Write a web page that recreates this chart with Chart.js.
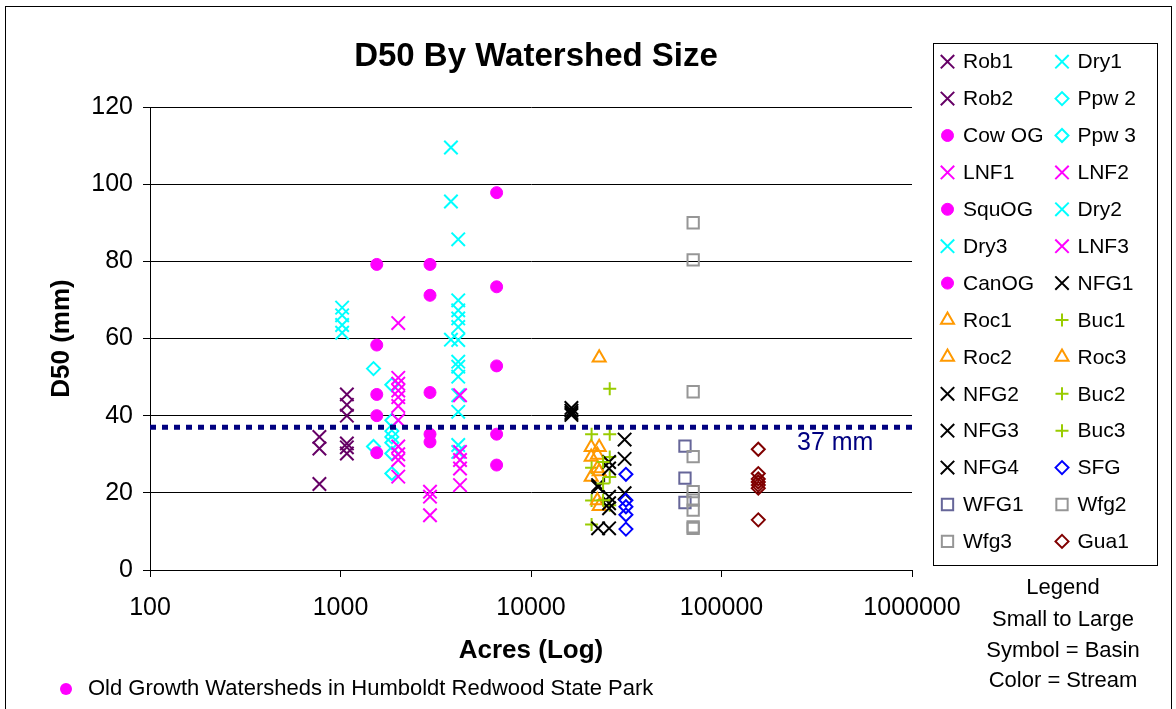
<!DOCTYPE html>
<html>
<head>
<meta charset="utf-8">
<title>D50 By Watershed Size</title>
<script src="https://cdn.jsdelivr.net/npm/chart.js@4.4.1/dist/chart.umd.min.js"></script>
<style>
  html, body { margin: 0; padding: 0; background: #fff; }
  #d50Chart { display: block; }
</style>
</head>
<body>
<canvas id="d50Chart" width="1176" height="709"></canvas>
<script>
// ============================
// DATA
// ============================
const seriesNames = [
    "Rob1", "Dry1", "Rob2", "Ppw 2", "Cow OG", "Ppw 3", "LNF1", "LNF2",
    "SquOG", "Dry2", "Dry3", "LNF3", "CanOG", "NFG1", "Roc1", "Buc1",
    "Roc2", "Roc3", "NFG2", "Buc2", "NFG3", "Buc3", "NFG4", "SFG",
    "WFG1", "Wfg2", "Wfg3", "Gua1"
];

// watershed size (acres) for each basin
const seriesAcres = [
    775, 1020, 1080, 1490, 1550, 1860, 2010, 2950,
    2950, 4150, 3800, 4240, 6600, 16300, 20700, 20800,
    22800, 22300, 22500, 25900, 25700, 23900, 31000, 31500,
    64300, 71000, 71000, 156000
];

// D50 (mm) measured in each basin
const d50Rob1 = [34.5, 31.5, 22.3];
const d50Dry1 = [68, 66, 63.5, 61.5];
const d50Rob2 = [45.5, 42.8, 40, 32.8, 31.8, 30.2];
const d50Ppw2 = [52.2, 32];
const d50CowOG = [79.2, 58.3, 45.5, 40, 30.4];
const d50Ppw3 = [48, 38.8, 36, 34.5, 33, 30.2, 25];
const d50LNF1 = [64, 49.8, 48.3, 46.5, 44.8, 42.5, 38.8, 32, 30, 28.5, 24.2];
const d50LNF2 = [20.3, 19, 14.2];
const d50SquOG = [79.2, 71.2, 46, 35.2, 33.2];
const d50Dry2 = [85.7, 69.9, 67.3, 65.2, 63, 59.6, 54, 52.7, 50.1, 45.3, 41, 32.4, 30.6];
const d50Dry3 = [109.5, 95.5, 59.7];
const d50LNF3 = [45.3, 30.6, 28.5, 26.3, 22];
const d50CanOG = [97.8, 73.4, 52.9, 35.2, 27.2];
const d50NFG1 = [42, 41.3, 40.7, 40.2];
const d50Roc1 = [31.8, 29.3, 24.1];
const d50Buc1 = [35.2, 26.5, 18, 11.8];
const d50Roc2 = [55, 31.8, 25.5, 16.5];
const d50Roc3 = [29.8, 26.3, 18];
const d50NFG2 = [22, 21.5, 10.8];
const d50Buc2 = [47, 35.2, 29.3, 24.1, 16.8];
const d50NFG3 = [28, 26.3, 19, 17.3, 16, 10.8];
const d50Buc3 = [28, 22.4, 18.1];
const d50NFG4 = [33.8, 28.8, 19.9];
const d50SFG = [24.8, 18.1, 16.4, 14.3, 10.6];
const d50WFG1 = [32.1, 23.8, 17.5];
const d50Wfg2 = [90, 80.4, 46.2, 29.4, 20.3];
const d50Wfg3 = [18.1, 15.5, 11.2, 10.8];
const d50Gua1 = [31.3, 25, 23.6, 22.8, 22, 21.2, 13];

const seriesD50 = [
    d50Rob1, d50Dry1, d50Rob2, d50Ppw2, d50CowOG, d50Ppw3, d50LNF1, d50LNF2,
    d50SquOG, d50Dry2, d50Dry3, d50LNF3, d50CanOG, d50NFG1, d50Roc1, d50Buc1,
    d50Roc2, d50Roc3, d50NFG2, d50Buc2, d50NFG3, d50Buc3, d50NFG4, d50SFG,
    d50WFG1, d50Wfg2, d50Wfg3, d50Gua1
];

const xTickValues = [100, 1000, 10000, 100000, 1000000];
const yTickValues = [0, 20, 40, 60, 80, 100, 120];

const targetD50 = 37;
const targetLabel = "37 mm";
const chartTitle = "D50 By Watershed Size";
const legendNotes = ["Legend", "Small to Large", "Symbol = Basin", "Color = Stream"];
const footnote = "Old Growth Watersheds in Humboldt Redwood State Park";

// ============================
// STYLES
// ============================
const FONT = "'Liberation Sans', Arial, sans-serif";

const PURPLE = "#660066";
const CYAN = "#00ffff";
const MAGENTA = "#ff00ff";
const BLACK = "#000000";
const ORANGE = "#ff9900";
const GREEN = "#99cc00";
const BLUE = "#0000ff";
const SLATE = "#666699";
const GRAY = "#969696";
const MAROON = "#800000";
const NAVY = "#000080";

const markers = {
    x:        { pointStyle: "crossRot", radius: 9.5, borderWidth: 2, filled: false },
    plus:     { pointStyle: "cross",    radius: 6.5, borderWidth: 2, filled: false },
    dot:      { pointStyle: "circle",   radius: 6,   borderWidth: 1, filled: true },
    diamond:  { pointStyle: "rectRot",  radius: 6.5, borderWidth: 2, filled: false },
    square:   { pointStyle: "rect",     radius: 8,   borderWidth: 2, filled: false },
    triangle: { pointStyle: "triangle", radius: 7.5, borderWidth: 2, filled: false }
};

// marker shape = basin, colour = stream
const seriesLook = [
    ["x", PURPLE], ["x", CYAN], ["x", PURPLE], ["diamond", CYAN],
    ["dot", MAGENTA], ["diamond", CYAN], ["x", MAGENTA], ["x", MAGENTA],
    ["dot", MAGENTA], ["x", CYAN], ["x", CYAN], ["x", MAGENTA],
    ["dot", MAGENTA], ["x", BLACK], ["triangle", ORANGE], ["plus", GREEN],
    ["triangle", ORANGE], ["triangle", ORANGE], ["x", BLACK], ["plus", GREEN],
    ["x", BLACK], ["plus", GREEN], ["x", BLACK], ["diamond", BLUE],
    ["square", SLATE], ["square", GRAY], ["square", GRAY], ["diamond", MAROON]
];

// ============================
// DATASETS
// ============================
const datasets = seriesNames.map((name, i) => {
    const look = markers[seriesLook[i][0]];
    const color = seriesLook[i][1];
    const fill = look.filled ? color : "rgba(0,0,0,0)";
    return {
        type: "scatter",
        label: name,
        data: seriesD50[i].map(v => ({ x: seriesAcres[i], y: v })),
        pointStyle: look.pointStyle,
        pointRadius: look.radius,
        pointHoverRadius: look.radius,
        pointBorderWidth: look.borderWidth,
        pointBorderColor: color,
        pointBackgroundColor: fill,
        borderColor: color,
        backgroundColor: fill,
        order: 100 - i     // later basins sit on top
    };
});

// 37 mm reference line across the whole plot
datasets.push({
    type: "line",
    label: targetLabel,
    data: [
        { x: xTickValues[0], y: targetD50 },
        { x: xTickValues[xTickValues.length - 1], y: targetD50 }
    ],
    borderColor: NAVY,
    borderWidth: 5,
    borderDash: [6, 6],
    pointRadius: 0,
    fill: false,
    order: -1
});

// ============================
// LEGEND, TITLE AND NOTES
// ============================
const sheetDecor = {
    id: "sheetDecor",
    afterDraw(chart) {
        const { ctx, scales } = chart;
        ctx.save();

        // outer frame
        ctx.strokeStyle = "#000";
        ctx.lineWidth = 1;
        ctx.strokeRect(5.5, 6.5, 1166, 720);

        // title
        ctx.fillStyle = "#000";
        ctx.font = `bold 33px ${FONT}`;
        ctx.textAlign = "center";
        ctx.textBaseline = "middle";
        ctx.fillText(chartTitle, 536, 57);

        // label under the reference line
        ctx.fillStyle = NAVY;
        ctx.font = `25px ${FONT}`;
        ctx.textAlign = "left";
        ctx.fillText(targetLabel, 797, scales.y.getPixelForValue(targetD50) + 16);

        // series legend box (two columns, row-wise)
        ctx.strokeStyle = "#000";
        ctx.lineWidth = 1;
        ctx.strokeRect(933.5, 43.5, 224, 522);
        ctx.font = `21px ${FONT}`;
        seriesNames.forEach((name, i) => {
            const row = Math.floor(i / 2);
            const col = i % 2;
            const y = 61.7 + 36.9 * row;
            const mx = col === 0 ? 947.5 : 1062;
            const look = markers[seriesLook[i][0]];
            const color = seriesLook[i][1];
            ctx.strokeStyle = color;
            ctx.fillStyle = look.filled ? color : "rgba(0,0,0,0)";
            ctx.lineWidth = look.borderWidth;
            Chart.helpers.drawPoint(ctx, {
                pointStyle: look.pointStyle,
                radius: look.radius,
                rotation: 0,
                borderWidth: look.borderWidth
            }, mx, y);
            ctx.fillStyle = "#000";
            ctx.textAlign = "left";
            ctx.fillText(name, mx + 15.5, y + 1);
        });

        // legend notes
        ctx.fillStyle = "#000";
        ctx.font = `22px ${FONT}`;
        ctx.textAlign = "center";
        [588, 620, 651, 681].forEach((y, i) => ctx.fillText(legendNotes[i], 1063, y));

        // footnote with the old-growth marker
        ctx.fillStyle = MAGENTA;
        ctx.beginPath();
        ctx.arc(66, 689, 6, 0, Math.PI * 2);
        ctx.fill();
        ctx.fillStyle = "#000";
        ctx.textAlign = "left";
        ctx.fillText(footnote, 88, 689);

        ctx.restore();
    }
};

// ============================
// CHART
// ============================
const ctx = document.getElementById("d50Chart").getContext("2d");

new Chart(ctx, {
    type: "scatter",
    data: { datasets: datasets },
    plugins: [sheetDecor],
    options: {
        responsive: false,
        animation: false,
        events: [],
        layout: { padding: { left: 40, right: 264, top: 107, bottom: 39 } },
        plugins: {
            legend: { display: false },
            title: { display: false },
            tooltip: { enabled: false }
        },
        scales: {
            x: {
                type: "logarithmic",
                min: xTickValues[0],
                max: xTickValues[xTickValues.length - 1],
                afterBuildTicks: scale => {
                    scale.ticks = xTickValues.map(v => ({ value: v }));
                },
                afterFit: scale => { scale.height = 100; },
                ticks: {
                    callback: v => String(v),
                    autoSkip: false,
                    maxRotation: 0,
                    padding: 16,
                    color: "#000",
                    font: { family: FONT, size: 25 }
                },
                grid: { drawOnChartArea: false, drawTicks: true, tickLength: 7, color: "#000" },
                border: { color: "#000", width: 1 },
                title: {
                    display: true,
                    text: "Acres (Log)",
                    color: "#000",
                    font: { family: FONT, size: 26, weight: "bold" },
                    padding: { top: 0, bottom: 4 }
                }
            },
            y: {
                min: yTickValues[0],
                max: yTickValues[yTickValues.length - 1],
                afterBuildTicks: scale => {
                    scale.ticks = yTickValues.map(v => ({ value: v }));
                },
                afterFit: scale => { scale.width = 110; },
                ticks: {
                    padding: 10,
                    color: "#000",
                    font: { family: FONT, size: 25 }
                },
                grid: { color: "#000", tickLength: 7 },
                border: { color: "#000", width: 1 },
                title: {
                    display: true,
                    text: "D50 (mm)",
                    color: "#000",
                    font: { family: FONT, size: 26, weight: "bold" },
                    padding: { top: 6, bottom: 0 }
                }
            }
        }
    }
});
</script>
</body>
</html>
